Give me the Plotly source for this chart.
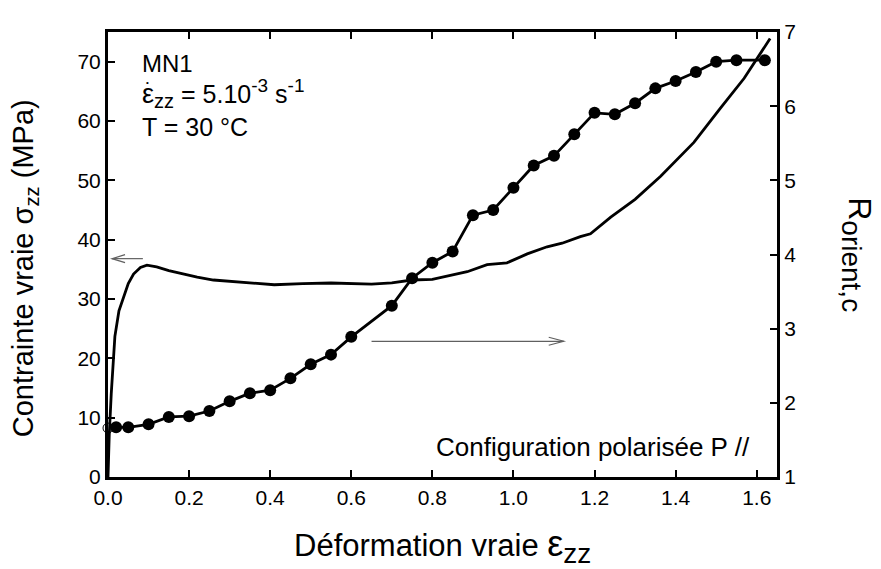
import plotly.graph_objects as go

# ---- data ----
strain_stress = [0, 0.003, 0.008, 0.017, 0.027, 0.038, 0.05, 0.063, 0.08, 0.096, 0.12, 0.15,
                 0.18, 0.22, 0.26, 0.33, 0.41, 0.48, 0.55, 0.65, 0.70, 0.75, 0.80, 0.886,
                 0.935, 0.984, 1.034, 1.083, 1.12, 1.165, 1.19, 1.24, 1.30, 1.363, 1.445,
                 1.511, 1.569, 1.633]
stress = [0, 7, 14, 23.7, 28, 30.3, 32.6, 34.2, 35.3, 35.7, 35.4, 34.8,
          34.3, 33.7, 33.2, 32.8, 32.4, 32.6, 32.7, 32.5, 32.7, 33.2, 33.3, 34.6,
          35.8, 36.1, 37.6, 38.8, 39.4, 40.5, 41.0, 43.8, 46.8, 50.7, 56.4,
          62.2, 67.2, 73.9]

strain_R = [0.02, 0.05, 0.10, 0.15, 0.20, 0.25, 0.30, 0.35, 0.40, 0.45, 0.50, 0.55, 0.60,
            0.70, 0.75, 0.80, 0.85, 0.90, 0.95, 1.00, 1.05, 1.10, 1.15, 1.20, 1.25, 1.30,
            1.35, 1.40, 1.45, 1.50, 1.55, 1.62]
R_orient = [1.67, 1.67, 1.71, 1.81, 1.82, 1.89, 2.02, 2.13, 2.17, 2.33, 2.52, 2.65, 2.89,
            3.31, 3.68, 3.89, 4.04, 4.53, 4.60, 4.90, 5.20, 5.33, 5.62, 5.91, 5.89, 6.04,
            6.24, 6.34, 6.46, 6.60, 6.62, 6.62]

strain_R0 = [0.0]
R_orient0 = [1.66]

x_ticks = [0, 0.2, 0.4, 0.6, 0.8, 1.0, 1.2, 1.4, 1.6]
y_ticks = [0, 10, 20, 30, 40, 50, 60, 70]
y2_ticks = [1, 2, 3, 4, 5, 6, 7]

# arrow positions (data units)
arrow_left = dict(tip_x=0.01, tail_x=0.086, y=36.8)
arrow_right = dict(tail_x=0.65, tip_x=1.124, y=2.83)

FONT = "Liberation Sans, Arial, sans-serif"
ARROW_COLOR = "#606060"

fig = go.Figure()
fig.add_trace(go.Scatter(x=strain_stress, y=stress, mode="lines",
                         line=dict(color="black", width=2.8), yaxis="y",
                         showlegend=False, hoverinfo="skip"))
fig.add_trace(go.Scatter(x=strain_R, y=R_orient, mode="lines+markers",
                         line=dict(color="black", width=2.8),
                         marker=dict(color="black", size=12),
                         yaxis="y2", showlegend=False))
fig.add_trace(go.Scatter(x=strain_R0, y=R_orient0, mode="markers",
                         marker=dict(color="rgba(0,0,0,0)", size=10,
                                     line=dict(color="black", width=1)),
                         yaxis="y2", cliponaxis=False, showlegend=False))

# arrows: lines + open heads (pixel-sized)
fig.add_shape(type="line", xref="x", yref="y",
              x0=arrow_left["tail_x"], x1=arrow_left["tip_x"],
              y0=arrow_left["y"], y1=arrow_left["y"],
              line=dict(color=ARROW_COLOR, width=1.2))
fig.add_shape(type="path", xref="x", yref="y", xsizemode="pixel", ysizemode="pixel",
              xanchor=arrow_left["tip_x"], yanchor=arrow_left["y"],
              path="M13,-4 L0,0 L13,4", line=dict(color=ARROW_COLOR, width=1.2))
fig.add_shape(type="line", xref="x", yref="y2",
              x0=arrow_right["tail_x"], x1=arrow_right["tip_x"],
              y0=arrow_right["y"], y1=arrow_right["y"],
              line=dict(color=ARROW_COLOR, width=1.2))
fig.add_shape(type="path", xref="x", yref="y2", xsizemode="pixel", ysizemode="pixel",
              xanchor=arrow_right["tip_x"], yanchor=arrow_right["y"],
              path="M-15,-4 L0,0 L-15,4", line=dict(color=ARROW_COLOR, width=1.2))

axis_common = dict(showline=True, linecolor="black", linewidth=3, ticks="inside",
                   ticklen=7, tickwidth=1.5, tickcolor="black", showgrid=False,
                   zeroline=False, tickfont=dict(family=FONT, size=21, color="black"))

fig.update_layout(
    width=873, height=561,
    margin=dict(l=100, r=104, t=14, b=92),
    paper_bgcolor="white", plot_bgcolor="white",
    font=dict(family=FONT, color="black"),
    xaxis=dict(range=[0, 1.65], tickvals=x_ticks, tickformat=".1f", mirror="ticks",
               **axis_common),
    yaxis=dict(range=[0, 75], tickvals=y_ticks, **axis_common),
    yaxis2=dict(range=[1, 7], tickvals=y2_ticks, overlaying="y", side="right",
                **axis_common),
)


def sized(txt, px):
    return f"<span style='font-size:{px}px'>{txt}</span>"


ann = []
# top-left text block
ann.append(dict(text="MN1", x=0.048, y=0.930, xref="paper", yref="paper",
                xanchor="left", yanchor="middle", showarrow=False,
                font=dict(size=24)))
ann.append(dict(text=sized("ε", 27) + "<sub>" + sized("zz", 20) + "</sub> = 5.10<sup>"
                + sized("-3", 19) + "</sup> s<sup>" + sized("-1", 19) + "</sup>",
                x=0.048, y=0.861,
                xref="paper", yref="paper", xanchor="left", yanchor="middle",
                showarrow=False, font=dict(size=25)))
ann.append(dict(text="•", x=0.059, y=0.887, xref="paper", yref="paper",
                xanchor="center", yanchor="middle", showarrow=False,
                font=dict(size=8)))
ann.append(dict(text="T = 30 °C", x=0.048, y=0.787, xref="paper", yref="paper",
                xanchor="left", yanchor="middle", showarrow=False,
                font=dict(size=25)))
ann.append(dict(text="Configuration polarisée P //", x=0.963, y=0.068,
                xref="paper", yref="paper", xanchor="right", yanchor="middle",
                showarrow=False, font=dict(size=26)))
# axis titles
ann.append(dict(text="Déformation vraie " + sized("ε", 36) + "<sub>" + sized("zz", 28)
                + "</sub>", x=0.5, y=-0.155,
                xref="paper", yref="paper", xanchor="center", yanchor="middle",
                showarrow=False, font=dict(size=31)))
ann.append(dict(text="Contrainte vraie σ<sub>zz</sub> (MPa)", x=-0.125, y=0.47,
                xref="paper", yref="paper", xanchor="center", yanchor="middle",
                textangle=-90, showarrow=False, font=dict(size=29)))
ann.append(dict(text="R<sub>" + sized("orient,c", 28) + "</sub>", x=1.12, y=0.50,
                xref="paper", yref="paper", xanchor="center", yanchor="middle",
                textangle=90, showarrow=False, font=dict(size=32)))
fig.update_layout(annotations=ann)

fig.write_html("out.html")
